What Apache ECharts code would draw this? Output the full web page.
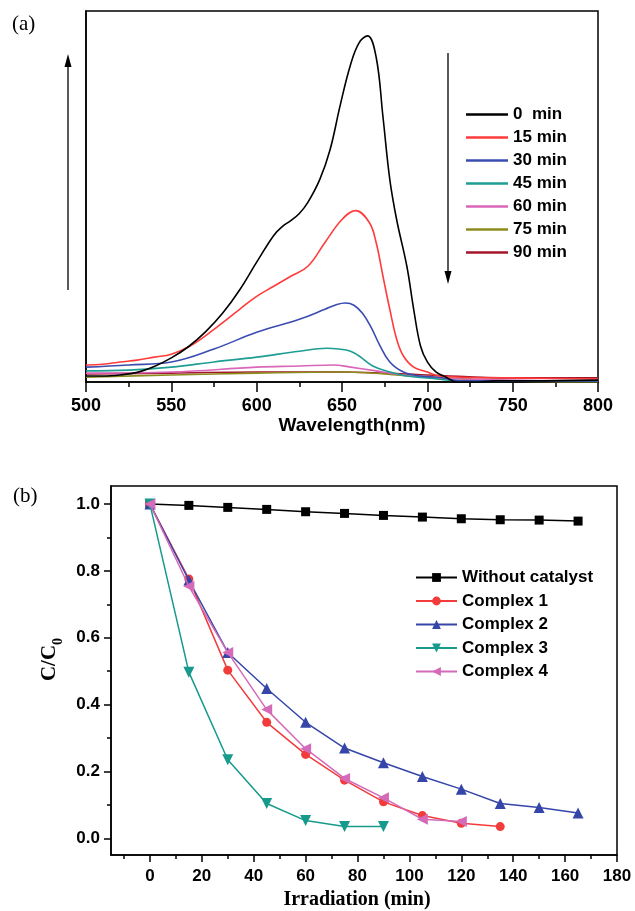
<!DOCTYPE html>
<html>
<head>
<meta charset="utf-8">
<script src="https://cdn.jsdelivr.net/npm/echarts@6/dist/echarts.min.js"></script>
<style>html,body{margin:0;padding:0;background:#fff;}#c{width:635px;height:911px;}</style>
</head>
<body>
<div id="c"></div>
<script>
// ---------- Panel (a): UV-vis spectra ----------
const specNames = ['0  min', '15 min', '30 min', '45 min', '60 min', '75 min', '90 min'];
const specColors = ['#000000', '#ff3b3b', '#3b4cb0', '#1e9d92', '#d966b8', '#8c8c1e', '#a3162a'];

const wl0  = [500,510,520,530,540,550,560,570,580,590,600,610,615,620,625,630,637,643,649,655,660,665,670,674,678,682,688,692,696,700,705,711,717,727,740,760,800];
const abs0 = [0.016,0.016,0.019,0.026,0.042,0.065,0.095,0.135,0.185,0.248,0.323,0.395,0.419,0.435,0.454,0.484,0.546,0.626,0.747,0.855,0.914,0.933,0.876,0.715,0.546,0.438,0.312,0.196,0.097,0.054,0.027,0.013,0,0,0.003,0.003,0.005];

const wl15  = [500,510,520,530,540,550,561,575,590,600,610,620,630,640,650,658,666,670,674,678,682,686,692,700,707,720,750,800];
const abs15 = [0.046,0.048,0.054,0.059,0.067,0.075,0.097,0.142,0.196,0.231,0.258,0.285,0.312,0.376,0.438,0.462,0.430,0.376,0.285,0.196,0.116,0.070,0.040,0.027,0.016,0.013,0.011,0.008];

const wl30  = [500,525,550,575,600,625,640,647,652,657,662,667,672,678,686,696,707,719,800];
const abs30 = [0.040,0.046,0.054,0.089,0.134,0.169,0.196,0.209,0.213,0.207,0.185,0.148,0.100,0.054,0.027,0.016,0.013,0.003,0.003];

const wl45  = [500,525,550,575,600,625,641,648,655,660,668,678,688,700,720,800];
const abs45 = [0.030,0.032,0.040,0.054,0.067,0.083,0.091,0.089,0.083,0.070,0.043,0.027,0.016,0.011,0.003,0.003];

const wl60  = [500,550,600,625,645,655,670,690,720,800];
const abs60 = [0.024,0.027,0.040,0.043,0.046,0.040,0.030,0.016,0.008,0.003];

const wl75  = [500,550,600,650,700,750,800];
const abs75 = [0.013,0.019,0.024,0.027,0.013,0.003,0.0];

const wl90  = [500,550,600,650,700,750,800];
const abs90 = [0.022,0.024,0.027,0.027,0.019,0.011,0.011];

const specWl = [wl0, wl15, wl30, wl45, wl60, wl75, wl90];
const specAbs = [abs0, abs15, abs30, abs45, abs60, abs75, abs90];

// ---------- Panel (b): degradation kinetics ----------
const kinNames = ['Without catalyst', 'Complex 1', 'Complex 2', 'Complex 3', 'Complex 4'];
const kinColors = ['#000000', '#f23c3c', '#3546a8', '#159a8c', '#d46ab8'];
const kinSymbols = ['rect', 'circle', 'triangle', 'path://M0,0 L10,0 L5,9 Z', 'path://M0,5 L9,0 L9,10 Z'];
const kinSizes = [9, 9, 11, 11, 11];

const tNoCat = [0,15,30,45,60,75,90,105,120,135,150,165];
const cNoCat = [1.0,0.996,0.990,0.984,0.977,0.972,0.966,0.961,0.956,0.953,0.952,0.949];

const tC1 = [0,15,30,45,60,75,90,105,120,135];
const cC1 = [1.0,0.776,0.503,0.347,0.251,0.174,0.109,0.068,0.045,0.035];

const tC2 = [0,15,30,45,60,75,90,105,120,135,150,165];
const cC2 = [1.0,0.772,0.556,0.448,0.347,0.270,0.226,0.185,0.147,0.104,0.092,0.076];

const tC3 = [0,15,30,45,60,75,90];
const cC3 = [1.0,0.497,0.235,0.104,0.053,0.035,0.035];

const tC4 = [0,15,30,45,60,75,90,105,120];
const cC4 = [1.0,0.754,0.556,0.385,0.268,0.179,0.121,0.057,0.050];

const kinT = [tNoCat, tC1, tC2, tC3, tC4];
const kinC = [cNoCat, cC1, cC2, cC3, cC4];

// tick values
const xTicksB = [0,20,40,60,80,100,120,140,160,180];
const xMinorB = [-10,10,30,50,70,90,110,130,150,170];
const yTicksB = [0,0.2,0.4,0.6,0.8,1.0];
const yMinorB = [0.1,0.3,0.5,0.7,0.9];

const SANS = 'Liberation Sans, Arial, sans-serif';
const SERIF = 'Liberation Serif, Times New Roman, serif';
const zip = (xs, ys) => xs.map((x, i) => [x, ys[i]]);

const series = [];
specNames.forEach((n, i) => {
  series.push({
    name: n, type: 'line', xAxisIndex: 0, yAxisIndex: 0,
    data: zip(specWl[i], specAbs[i]),
    symbol: 'none', smooth: 0.4,
    lineStyle: { color: specColors[i], width: 1.6 },
    itemStyle: { color: specColors[i] },
    z: 10 - i
  });
});
kinNames.forEach((n, i) => {
  series.push({
    name: n, type: 'line', xAxisIndex: 1, yAxisIndex: 1,
    data: zip(kinT[i], kinC[i]),
    symbol: kinSymbols[i], symbolSize: kinSizes[i], showSymbol: true,
    lineStyle: { color: kinColors[i], width: 1.5 },
    itemStyle: { color: kinColors[i] },
    z: 10 + i
  });
});

const axisLineStyle = { color: '#000', width: 1.5 };

const option = {
  animation: false,
  backgroundColor: '#fff',
  title: [
    { text: '(a)', left: 12, top: 14, padding: 0,
      textStyle: { fontFamily: SERIF, fontWeight: 'normal', fontSize: 21, color: '#000' } },
    { text: '(b)', left: 13, top: 486, padding: 0,
      textStyle: { fontFamily: SERIF, fontWeight: 'normal', fontSize: 21, color: '#000' } }
  ],
  grid: [
    { left: 86, top: 11, width: 512, height: 371, show: true, borderColor: '#000', borderWidth: 1.5, containLabel: false },
    { left: 111, top: 486, width: 506, height: 371, show: true, borderColor: '#000', borderWidth: 1.5, containLabel: false }
  ],
  legend: [
    {
      data: specNames, orient: 'vertical', left: 466, top: 106,
      icon: 'rect', itemWidth: 42, itemHeight: 2.5, itemGap: 6,
      textStyle: { fontFamily: SANS, fontWeight: 'bold', fontSize: 17, color: '#000', lineHeight: 17 },
      padding: 0
    },
    {
      data: kinNames, orient: 'vertical', left: 415, top: 569,
      itemWidth: 41, itemHeight: 11, itemGap: 6.5,
      textStyle: { fontFamily: SANS, fontWeight: 'bold', fontSize: 17, color: '#000', lineHeight: 17 },
      padding: 0
    }
  ],
  xAxis: [
    {
      type: 'value', gridIndex: 0, min: 500, max: 800, interval: 50,
      axisLine: { show: true, onZero: false, lineStyle: axisLineStyle },
      axisTick: { show: true, inside: false, length: 10, lineStyle: axisLineStyle },
      minorTick: { show: true, splitNumber: 2, length: 5, lineStyle: axisLineStyle },
      axisLabel: { fontFamily: SANS, fontWeight: 'bold', fontSize: 18, color: '#000', margin: 15 },
      splitLine: { show: false },
      name: 'Wavelength(nm)', nameLocation: 'middle', nameGap: 34,
      nameTextStyle: { fontFamily: SANS, fontWeight: 'bold', fontSize: 19, color: '#000', padding: [0, 0, 0, 20] }
    },
    {
      type: 'value', gridIndex: 1, min: -15, max: 180, position: 'bottom',
      axisLine: { show: true, onZero: false, lineStyle: axisLineStyle },
      axisTick: { show: true, inside: false, length: 7, customValues: xTicksB, lineStyle: axisLineStyle },
      axisLabel: { customValues: xTicksB, fontFamily: SANS, fontWeight: 'bold', fontSize: 17, color: '#000', margin: 13 },
      splitLine: { show: false },
      name: 'Irradiation (min)', nameLocation: 'middle', nameGap: 35,
      nameTextStyle: { fontFamily: SERIF, fontWeight: 'bold', fontSize: 20, color: '#000', padding: [0, 14, 0, 0] }
    },
    {
      type: 'value', gridIndex: 1, min: -15, max: 180, position: 'bottom',
      axisLine: { show: false, onZero: false },
      axisTick: { show: true, inside: false, length: 4, customValues: xMinorB, lineStyle: axisLineStyle },
      axisLabel: { show: false },
      splitLine: { show: false }
    }
  ],
  yAxis: [
    {
      type: 'value', gridIndex: 0, min: 0, max: 1,
      axisLine: { show: true, onZero: false, lineStyle: axisLineStyle },
      axisTick: { show: false }, axisLabel: { show: false }, splitLine: { show: false }
    },
    {
      type: 'value', gridIndex: 1, min: -0.05, max: 1.054, position: 'left',
      axisLine: { show: true, onZero: false, lineStyle: axisLineStyle },
      axisTick: { show: true, inside: false, length: 7, customValues: yTicksB, lineStyle: axisLineStyle },
      axisLabel: { customValues: yTicksB, formatter: v => v.toFixed(1),
        fontFamily: SANS, fontWeight: 'bold', fontSize: 17, color: '#000', margin: 11 },
      splitLine: { show: false },
      name: '{c|C/C}{s|0}', nameLocation: 'middle', nameGap: 27, nameRotate: 90,
      nameTextStyle: {
        padding: [0, 0, 0, 22],
        rich: {
          c: { fontFamily: SERIF, fontWeight: 'bold', fontSize: 21, color: '#000', lineHeight: 26, verticalAlign: 'top' },
          s: { fontFamily: SERIF, fontWeight: 'bold', fontSize: 14, color: '#000', lineHeight: 26, verticalAlign: 'bottom' }
        }
      }
    },
    {
      type: 'value', gridIndex: 1, min: -0.05, max: 1.054, position: 'left',
      axisLine: { show: false, onZero: false },
      axisTick: { show: true, inside: false, length: 4, customValues: yMinorB, lineStyle: axisLineStyle },
      axisLabel: { show: false },
      splitLine: { show: false }
    }
  ],
  graphic: [
    { type: 'line', shape: { x1: 68, y1: 290, x2: 68, y2: 64 }, style: { stroke: '#000', lineWidth: 1.3 } },
    { type: 'polygon', shape: { points: [[68, 54], [64.5, 67], [71.5, 67]] }, style: { fill: '#000' } },
    { type: 'line', shape: { x1: 448, y1: 53, x2: 448, y2: 274 }, style: { stroke: '#000', lineWidth: 1.3 } },
    { type: 'polygon', shape: { points: [[448, 284], [444.5, 271], [451.5, 271]] }, style: { fill: '#000' } }
  ],
  series: series
};

const chart = echarts.init(document.getElementById('c'), null, { renderer: 'canvas' });
chart.setOption(option);
</script>
</body>
</html>
